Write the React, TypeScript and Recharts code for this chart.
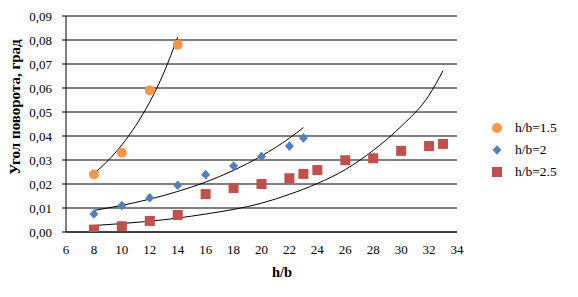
import React from 'react';
import { ScatterChart, Scatter, XAxis, YAxis, CartesianGrid } from 'recharts';

// measured points
const orangeX = [8, 10, 12, 14];
const orangeY = [0.024, 0.033, 0.059, 0.078];

const blueX = [8, 10, 12, 14, 16, 18, 20, 22, 23];
const blueY = [0.0075, 0.011, 0.0143, 0.0195, 0.0239, 0.0275, 0.0315, 0.0358, 0.0392];

const redX = [8, 10, 12, 14, 16, 18, 20, 22, 23, 24, 26, 28, 30, 32, 33];
const redY = [0.001, 0.0024, 0.0046, 0.0071, 0.0158, 0.0183, 0.02, 0.0224, 0.0242, 0.0258, 0.0299, 0.0307, 0.0338, 0.0358, 0.0367];

// trend curves
const orangeTrendX = [8, 9, 10, 11, 12, 13, 14];
const orangeTrendY = [0.0243, 0.0297, 0.0363, 0.0444, 0.0542, 0.0663, 0.0812];

const blueTrendX = [8, 10, 12, 14, 16, 18, 20, 22, 23];
const blueTrendY = [0.009, 0.0111, 0.0137, 0.0169, 0.0208, 0.0257, 0.0317, 0.0391, 0.0435];

const redTrendX = [8, 10, 12, 14, 16, 18, 20, 22, 24, 26, 28, 30, 32, 33];
const redTrendY = [0.0027, 0.0035, 0.0045, 0.0058, 0.0075, 0.0094, 0.012, 0.0157, 0.0202, 0.026, 0.034, 0.044, 0.057, 0.0672];

const xTicks = [6, 8, 10, 12, 14, 16, 18, 20, 22, 24, 26, 28, 30, 32, 34];
const yTicks = [0, 0.01, 0.02, 0.03, 0.04, 0.05, 0.06, 0.07, 0.08, 0.09];

const seriesNames = ['h/b=1.5', 'h/b=2', 'h/b=2.5'];
const colors = ['#F79646', '#4F81BD', '#C0504D'];

const toPoints = (xs: number[], ys: number[]) => xs.map((x, i) => ({ x, y: ys[i] }));

const FONT = '"Liberation Serif", "Times New Roman", serif';

const Circle = (p: any) => <circle cx={p.cx} cy={p.cy} r={5} fill={colors[0]} />;
const Diamond = (p: any) => (
  <path
    d={`M${p.cx},${p.cy - 4.8} L${p.cx + 4.5},${p.cy} L${p.cx},${p.cy + 4.8} L${p.cx - 4.5},${p.cy} Z`}
    fill={colors[1]}
  />
);
const Square = (p: any) => <rect x={p.cx - 5} y={p.cy - 5} width={10} height={10} fill={colors[2]} />;
const NoShape = () => <g />;

const markerSvg = [
  <circle cx={6} cy={6} r={5} fill={colors[0]} />,
  <path d="M6,1.2 L10.5,6 L6,10.8 L1.5,6 Z" fill={colors[1]} />,
  <rect x={1} y={1} width={10} height={10} fill={colors[2]} />,
];

const LegendBox = () => (
  <div style={{ position: 'absolute', left: 491, top: 117, fontFamily: FONT, fontSize: 13.5, color: '#000' }}>
    {seriesNames.map((name, i) => (
      <div key={name} style={{ display: 'flex', alignItems: 'center', height: 22 }}>
        <svg width={12} height={12} style={{ marginRight: 12 }}>
          {markerSvg[i]}
        </svg>
        <span>{name}</span>
      </div>
    ))}
  </div>
);

const fmt = (v: number) => v.toFixed(2).replace('.', ',');

export default function App() {
  const tick = { fontSize: 13, fill: '#000', fontFamily: FONT };
  return (
    <div style={{ position: 'absolute', left: 0, top: 0, width: 578, height: 297, background: '#fff', fontFamily: FONT }}>
      <ScatterChart width={578} height={297} margin={{ top: 16, right: 121, bottom: 35, left: 16 }}>
        <CartesianGrid vertical={false} stroke="#000" strokeWidth={1} />
        <XAxis
          type="number"
          dataKey="x"
          domain={[6, 34]}
          ticks={xTicks}
          interval={0}
          tick={tick}
          tickLine={false}
          tickMargin={7}
          axisLine={{ stroke: '#000' }}
          height={30}
          allowDataOverflow
          label={{
            content: () => (
              <text x={282} y={277} textAnchor="middle" fontFamily={FONT} fontSize={14.5} fontWeight="bold" fill="#000">
                h/b
              </text>
            ),
          }}
        />
        <YAxis
          type="number"
          dataKey="y"
          domain={[0, 0.09]}
          ticks={yTicks}
          interval={0}
          tick={tick}
          tickFormatter={fmt}
          tickLine={{ stroke: '#000' }}
          tickSize={4}
          tickMargin={10}
          axisLine={{ stroke: '#000' }}
          width={50}
          allowDataOverflow
          label={{
            content: () => (
              <text
                x={20}
                y={107}
                transform="rotate(-90 20 107)"
                textAnchor="middle"
                fontFamily={FONT}
                fontSize={15}
                fontWeight="bold"
                fill="#000"
              >
                Угол поворота, град
              </text>
            ),
          }}
        />
        <Scatter
          data={toPoints(orangeTrendX, orangeTrendY)}
          shape={NoShape}
          line={{ stroke: '#000', strokeWidth: 1 }}
          lineJointType="monotoneX"
          legendType="none"
          isAnimationActive={false}
        />
        <Scatter
          data={toPoints(blueTrendX, blueTrendY)}
          shape={NoShape}
          line={{ stroke: '#000', strokeWidth: 1 }}
          lineJointType="monotoneX"
          legendType="none"
          isAnimationActive={false}
        />
        <Scatter
          data={toPoints(redTrendX, redTrendY)}
          shape={NoShape}
          line={{ stroke: '#000', strokeWidth: 1 }}
          lineJointType="monotoneX"
          legendType="none"
          isAnimationActive={false}
        />
        <Scatter name={seriesNames[0]} data={toPoints(orangeX, orangeY)} shape={Circle} isAnimationActive={false} />
        <Scatter name={seriesNames[1]} data={toPoints(blueX, blueY)} shape={Diamond} isAnimationActive={false} />
        <Scatter name={seriesNames[2]} data={toPoints(redX, redY)} shape={Square} isAnimationActive={false} />
      </ScatterChart>
      <LegendBox />
    </div>
  );
}
